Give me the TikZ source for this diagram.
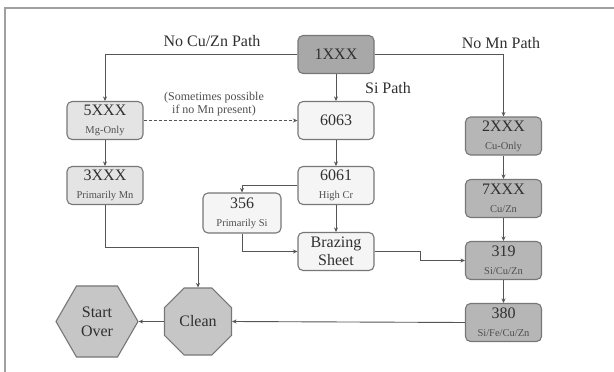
\documentclass[tikz,border=0pt]{standalone}
\usepackage{fontspec}
\setmainfont{Liberation Serif}
\usetikzlibrary{shapes.geometric,arrows.meta}
\definecolor{boxline}{HTML}{777777}
\definecolor{lineclr}{HTML}{555555}
\definecolor{txt}{HTML}{303030}
\definecolor{subtxt}{HTML}{505050}
\definecolor{darkfill}{HTML}{A8A8A8}
\definecolor{midfill}{HTML}{B6B6B6}
\definecolor{octfill}{HTML}{C6C6C6}
\definecolor{lightfill}{HTML}{E4E4E4}
\definecolor{whitefill}{HTML}{F5F5F5}
\definecolor{framec}{HTML}{A0A0A0}
\newcommand{\subf}{\fontsize{10.5}{13.5}\selectfont\color{subtxt}}
\tikzset{
  box/.style={draw=boxline, line width=1.1pt, rounded corners=5pt,
    minimum width=76pt, minimum height=38pt, inner sep=1pt, align=center,
    font=\fontsize{16}{18}\selectfont, text=txt},
  lightbox/.style={box, fill=lightfill},
  whitebox/.style={box, fill=whitefill},
  darkbox/.style={box, fill=darkfill},
  midbox/.style={box, fill=midfill},
  arr/.style={draw=lineclr, line width=0.9pt, -{Stealth[length=4.5pt,width=4pt]}},
  lbl/.style={font=\fontsize{16}{18}\selectfont, text=txt, inner sep=0pt},
}
\begin{document}
\begin{tikzpicture}[x=1pt,y=-1pt]
\useasboundingbox (0,0) rectangle (614,372);
\fill[white] (0,0) rectangle (614,372);
\draw[framec, line width=1.5pt] (5,372) -- (5,8) -- (614,8);

\node[darkbox] (n1) at (336,54.5) {1XXX};
\node[lightbox] (n5) at (105,120.5) {5XXX\\\subf Mg-Only};
\node[lightbox] (n3) at (105,185.5) {3XXX\\\subf Primarily Mn};
\node[whitebox] (n6063) at (336,120.5) {6063};
\node[whitebox] (n6061) at (336,185.5) {6061\\\subf High Cr};
\node[whitebox, minimum height=40pt, minimum width=78pt] (n356) at (242,213) {356\\\subf Primarily Si};
\node[whitebox] (nbraz) at (336,251.5) {Brazing\\Sheet};
\node[midbox] (n2) at (503.5,136) {2XXX\\\subf Cu-Only};
\node[midbox] (n7) at (503.5,198.5) {7XXX\\\subf Cu/Zn};
\node[midbox] (n319) at (503.5,260.5) {319\\\subf Si/Cu/Zn};
\node[midbox] (n380) at (503.5,322.5) {380\\\subf Si/Fe/Cu/Zn};
\node[regular polygon, regular polygon sides=8, minimum size=72.5pt, inner sep=0pt,
  draw=boxline, line width=1.1pt, fill=octfill, text=txt,
  font=\fontsize{16}{18}\selectfont] (clean) at (198,321.5) {Clean};
\node[regular polygon, regular polygon sides=6, minimum size=82pt, inner sep=0pt,
  draw=boxline, line width=1.1pt, fill=octfill, text=txt, align=center,
  font=\fontsize{16}{19}\selectfont] (start) at (97,321.5) {Start\\Over};

\node[lbl] (l1) at (212,41) {No Cu/Zn Path};
\node[lbl] (l2) at (501,43) {No Mn Path};
\node[lbl] (l3) at (388,88) {Si Path};
\node[align=center, text=subtxt, inner sep=0pt, font=\fontsize{12}{13}\selectfont] (l4) at (214,104) {(Sometimes possible\\if no Mn present)};

\draw[arr] (n1.west) -| (n5.north);
\draw[arr] (n1.east) -| (n2.north);
\draw[arr] (n1.south) -- (n6063.north);
\draw[arr, dashed, dash pattern=on 3pt off 2pt] (n5.east) -- (n6063.west);
\draw[arr] (n5.south) -- (n3.north);
\draw[arr] (n6063.south) -- (n6061.north);
\draw[arr] (n6061.west) -| (n356.north);
\draw[arr] (n356.south) |- (nbraz.west);
\draw[arr] (n6061.south) -- (nbraz.north);
\draw[arr] (nbraz.east) -- ++(46,0) |- (n319.west);
\draw[arr] (n3.south) -- ++(0,42) -| (clean.north);
\draw[arr] (n2.south) -- (n7.north);
\draw[arr] (n7.south) -- (n319.north);
\draw[arr] (n319.south) -- (n380.north);
\draw[arr] (n380.west) -- (clean.east);
\draw[arr] (clean.west) -- (start.east);
\end{tikzpicture}
\end{document}
